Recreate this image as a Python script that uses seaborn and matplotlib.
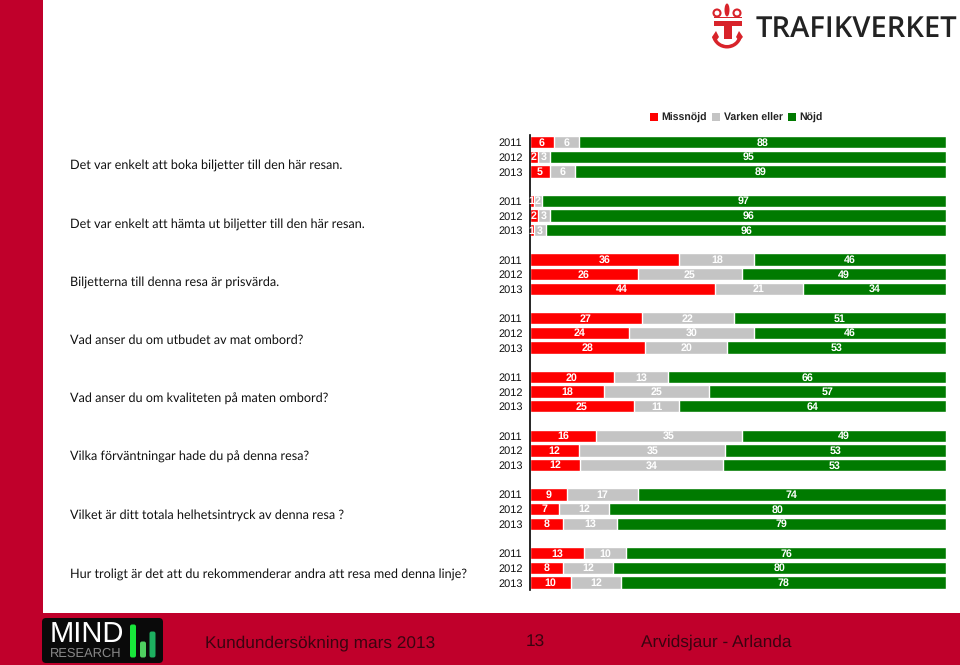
import matplotlib
matplotlib.use("Agg")
import matplotlib.pyplot as plt
from matplotlib.patches import Rectangle, FancyBboxPatch, Wedge, Ellipse, Polygon
import pandas as pd
import seaborn as sns

questions = [
    "Det var enkelt att boka biljetter till den här resan.",
    "Det var enkelt att hämta ut biljetter till den här resan.",
    "Biljetterna till denna resa är prisvärda.",
    "Vad anser du om utbudet av mat ombord?",
    "Vad anser du om kvaliteten på maten ombord?",
    "Vilka förväntningar hade du på denna resa?",
    "Vilket är ditt totala helhetsintryck av denna resa ?",
    "Hur troligt är det att du rekommenderar andra att resa med denna linje?",
]
years = ["2011", "2012", "2013"]
missnojd = [6, 2, 5, 1, 2, 1, 36, 26, 44, 27, 24, 28, 20, 18, 25, 16, 12, 12, 9, 7, 8, 13, 8, 10]
varken = [6, 3, 6, 2, 3, 3, 18, 25, 21, 22, 30, 20, 13, 25, 11, 35, 35, 34, 17, 12, 13, 10, 12, 12]
nojd = [88, 95, 89, 97, 96, 96, 46, 49, 34, 51, 46, 53, 66, 57, 64, 49, 53, 53, 74, 80, 79, 76, 80, 78]
legend_labels = ["Missnöjd", "Varken eller", "Nöjd"]
colors = ["#FE0000", "#C4C4C4", "#007A00"]

W, H = 960, 665
sns.set_theme(style="white")
plt.rcParams["text.hinting"] = "no_hinting"
plt.rcParams["text.hinting_factor"] = 8
fig = plt.figure(figsize=(W / 100, H / 100), dpi=100, facecolor="white")

# overlay in pixel coordinates for the slide furniture
bg = fig.add_axes([0, 0, 1, 1], zorder=0)
bg.set_xlim(0, W)
bg.set_ylim(H, 0)
bg.axis("off")
bg.add_patch(Rectangle((0, 0), 42.5, H, color="#C0002B", lw=0))
bg.add_patch(Rectangle((0, 613), W, 52, color="#C0002B", lw=0))

# table for the stacked bars, each row is a question and year
rows, order, ticks = [], [], []
for q in range(len(questions)):
    for y in range(3):
        i = q * 3 + y
        name = f"{q}-{years[y]}"
        order.append(name)
        ticks.append(years[y])
        total = missnojd[i] + varken[i] + nojd[i]
        a = missnojd[i] / total * 100
        b = varken[i] / total * 100
        c = nojd[i] / total * 100
        rows.append([name, legend_labels[0], a, a / 2, missnojd[i]])
        rows.append([name, legend_labels[1], a + b, a + b / 2, varken[i]])
        rows.append([name, legend_labels[2], a + b + c, a + b + c / 2, nojd[i]])
    if q < len(questions) - 1:
        order.append(f"gap{q}")
        ticks.append("")
df = pd.DataFrame(rows, columns=["row", "answer", "cum", "mid", "value"])

top_px, bottom_px = 134.5, 589.5
ax = fig.add_axes([529.5 / W, 1 - bottom_px / H, 416.5 / W, (bottom_px - top_px) / H], zorder=2)
ax.patch.set_alpha(0)
sns.barplot(
    data=df, y="row", x="cum", hue="answer", order=order,
    hue_order=legend_labels[::-1], palette=dict(zip(legend_labels, colors)),
    dodge=False, errorbar=None, width=0.84, legend=False, ax=ax, saturation=1,
)
ax.set_xlim(0, 100)
ax.set_ylim(len(order) - 0.52, -0.52)
ax.set_xlabel("")
ax.set_ylabel("")
ax.set_xticks([])
ax.set_yticks(range(len(order)))
ax.set_yticklabels(ticks, fontfamily="Liberation Sans", fontsize=7.9, color="#111111")
ax.tick_params(axis="y", length=0, pad=5)
for s in ["top", "right", "bottom"]:
    ax.spines[s].set_visible(False)
ax.spines["left"].set_color("black")
ax.spines["left"].set_linewidth(1.2)

for _, r in df.iterrows():
    ax.text(r["mid"], order.index(r["row"]) + 0.04, str(r["value"]), ha="center", va="center",
            color="white", fontsize=7.7, fontweight="bold", fontfamily="Liberation Sans")

# question texts, one per group
for q, text in enumerate(questions):
    bg.text(70, 165.5 + q * 58.3, text, fontfamily="Lato", fontsize=9.05, color="#111111", va="center")

# legend
for x, col, lab, tx in zip([650, 712, 788], colors, legend_labels, [661, 723.5, 799]):
    bg.add_patch(Rectangle((x, 113), 7.5, 8, color=col, lw=0))
    bg.text(tx, 118, lab, fontfamily="Liberation Sans", fontsize=7.6, fontweight="bold",
            color="#222222", va="center")

# Trafikverket logo
red = "#D8232A"
bg.text(755.5, 29.5, "TRAFIKVERKET", fontfamily="Open Sans", fontsize=21.0, fontweight="semibold",
        color="#222222", va="center")
bg.add_patch(Rectangle((714, 21), 28, 4.5, color=red, lw=0))
bg.add_patch(Rectangle((723.5, 25), 8.5, 13.5, color=red, lw=0))
bg.add_patch(Wedge((727, 33), 15.5, 15, 165, width=3.5, color=red, lw=0))
bg.add_patch(Polygon([[712, 37], [716, 31], [719, 37], [716, 41]], color=red, lw=0))
bg.add_patch(Polygon([[743, 37], [739, 31], [736, 37], [739, 41]], color=red, lw=0))
bg.add_patch(Ellipse((727, 10), 5, 13, color=red, lw=0))
bg.add_patch(Ellipse((717, 13), 7, 7, fill=False, ec=red, lw=1.5))
bg.add_patch(Ellipse((737, 13), 7, 7, fill=False, ec=red, lw=1.5))
bg.add_patch(Rectangle((714, 16.5), 28, 1.5, color=red, lw=0))

# Mind Research logo
bg.add_patch(FancyBboxPatch((44, 620), 117, 41, boxstyle="round,pad=2,rounding_size=4", color="#0A0A0A", lw=0))
bg.text(50, 635, "MIND", fontfamily="Liberation Sans", fontsize=21, color="white", va="center")
bg.text(50, 654, "RESEARCH", fontfamily="Liberation Sans", fontsize=9.3, color="#888888", va="center")
for x, y0, col in [(130.5, 625, "#18E63A"), (140.5, 642, "#4FD060"), (150, 632, "#1DB060")]:
    bg.add_patch(FancyBboxPatch((x, y0), 5, 657 - y0, boxstyle="round,pad=0.5,rounding_size=2", color=col, lw=0))

# footer texts
footer = "#3A0410"
bg.text(205, 643, "Kundundersökning mars 2013", fontfamily="Liberation Sans", fontsize=12.4, color=footer, va="center")
bg.text(526, 642, "13", fontfamily="Liberation Sans", fontsize=12.4, color=footer, va="center")
bg.text(641, 642, "Arvidsjaur - Arlanda", fontfamily="Liberation Sans", fontsize=12.4, color=footer, va="center")

fig.savefig("out.png", dpi=100)
